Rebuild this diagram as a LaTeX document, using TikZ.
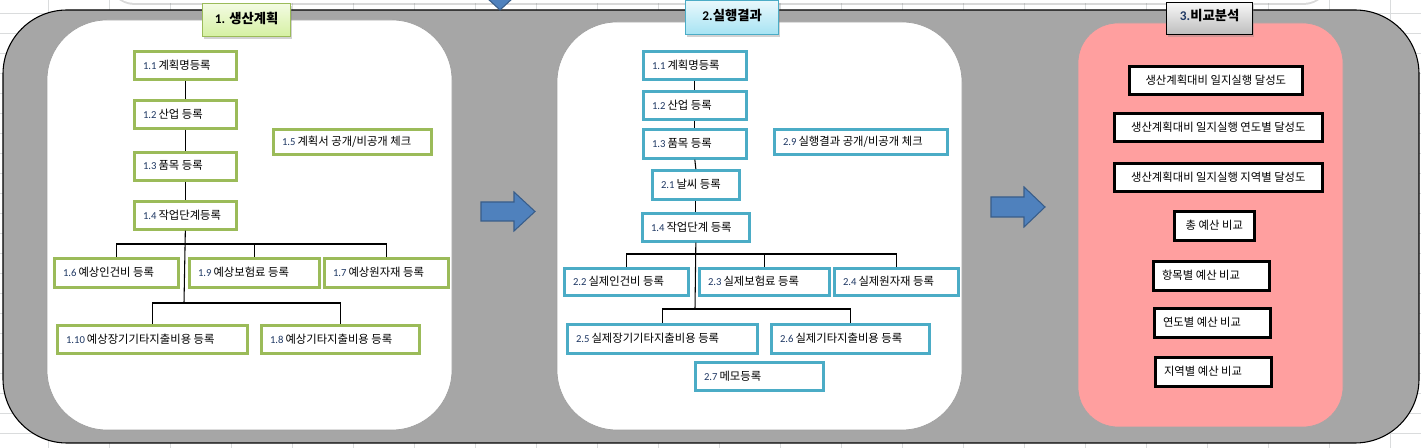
\documentclass[tikz,border=0pt]{standalone}
\usepackage{fontspec}
\setmainfont{Noto Sans CJK KR}
\newfontfamily\numf{Carlito}
\usetikzlibrary{shadows}
\definecolor{pgreen}{HTML}{9BBB59}
\definecolor{pblue}{HTML}{4BACC6}
\definecolor{outergray}{HTML}{A6A6A6}
\definecolor{pinkfill}{HTML}{FF9F9F}
\definecolor{arrowblue}{HTML}{4F81BD}
\definecolor{arrowedge}{HTML}{385D8A}
\definecolor{numcol}{HTML}{1F3864}
\definecolor{gridc}{HTML}{DADCDD}
\definecolor{tgtop}{HTML}{F3FBE2}
\definecolor{tgbot}{HTML}{D5F0A2}
\definecolor{tctop}{HTML}{E8F8FC}
\definecolor{tcbot}{HTML}{A6E3F3}
\definecolor{tktop}{HTML}{F7F7F7}
\definecolor{tkbot}{HTML}{BDBDBD}
\newcommand\nm[1]{{\numf\fontsize{8}{10}\selectfont\color{numcol}#1}\hspace{1.5pt}}
\newcommand\boxL[7]{%
  \pgfmathsetmacro\bxw{(#4-#2)*0.75}%
  \pgfmathsetmacro\bxh{(#5-#3)*0.75}%
  \pgfmathsetmacro\bxtw{\bxw-13}%
  \node[#6, minimum height=\bxh pt, anchor=north west] (#1) at (#2,#3)
    {\hbox to \bxtw pt{\raisebox{1.5pt}{#7}\hss}};}
\newcommand\boxC[7]{%
  \pgfmathsetmacro\bxw{(#4-#2)*0.75}%
  \pgfmathsetmacro\bxh{(#5-#3)*0.75}%
  \pgfmathsetmacro\bxtw{\bxw-13}%
  \node[#6, minimum height=\bxh pt, anchor=north west] (#1) at (#2,#3)
    {\hbox to \bxtw pt{\hss\raisebox{1.5pt}{#7}\hss}};}
\tikzset{
  box/.style={rectangle, line width=2pt, fill=white, inner xsep=6.5pt, inner ysep=0pt,
    outer sep=1pt, font=\fontsize{8.5}{10}\selectfont},
  gbox/.style={box, draw=pgreen},
  bbox/.style={box, draw=pblue},
  kbox/.style={box, draw=black, line width=1.8pt},
  conn/.style={draw=black, line width=0.8pt},
  title/.style={rectangle, anchor=north west, inner sep=0pt, line width=1pt,
    font=\fontsize{10}{12}\selectfont\bfseries,
    drop shadow={opacity=0.35, shadow xshift=1.2pt, shadow yshift=-1.5pt}},
  tgreen/.style={title, draw=pgreen, top color=tgtop, bottom color=tgbot},
  tcyan/.style={title, draw=pblue, top color=tctop, bottom color=tcbot},
  tgray/.style={title, draw=black, top color=tktop, bottom color=tkbot},
  blockarrow/.style={fill=arrowblue, draw=arrowedge, line width=0.8pt},
}
\begin{document}
\begin{tikzpicture}[x=0.75pt, y=-0.75pt]
\useasboundingbox (0,0) rectangle (1421,448);
\clip (0,0) rectangle (1421,448);
% spreadsheet grid
\foreach \gx in {48,109,...,1421} \draw[gridc, line width=0.5pt] (\gx,0) -- (\gx,448);
\foreach \gy in {13,33,...,448} \draw[gridc, line width=0.5pt] (0,\gy) -- (1421,\gy);
% shape above (cut off)
\fill[white, rounded corners=20pt, drop shadow={opacity=0.3, shadow xshift=0pt, shadow yshift=-1.5pt}] (108,-40) rectangle (1330,3);
% outer gray container
\draw[fill=outergray, draw=black, line width=0.8pt, rounded corners=48pt] (3,10) rectangle (1419,443);
% small blue triangle at the top
\draw[blockarrow] (487,-2) -- (513,-2) -- (500,10) -- cycle;
% panels
\draw[fill=white, draw=gray!75, line width=0.5pt, rounded corners=45pt] (47,20) rectangle (452,430);
\draw[fill=white, draw=gray!75, line width=0.5pt, rounded corners=45pt] (557,22) rectangle (962,430);
\draw[fill=pinkfill, draw=gray!70, line width=0.5pt, rounded corners=30pt] (1078,23) rectangle (1343,427);
% titles
\node[tgreen, minimum width=66pt, minimum height=24.75pt] (t1) at (202,3)
  {\raisebox{3pt}{{\numf\bfseries 1.} 생산계획}};
\node[tcyan, minimum width=69.75pt, minimum height=25.5pt] (t2) at (685,0)
  {\raisebox{4pt}{{\numf\bfseries 2.}실행결과}};
\node[tgray, minimum width=64.5pt, minimum height=24pt] (t3) at (1166,2)
  {\raisebox{5pt}{{\numf\bfseries\color{numcol}3.}비교분석}};
% panel 1
\boxL{p11}{133}{50}{235}{78}{gbox}{\nm{1.1}계획명등록}
\boxL{p12}{133}{99}{235}{127}{gbox}{\nm{1.2}산업 등록}
\boxL{p15}{272}{128}{430}{153}{gbox}{\nm{1.5}계획서 공개/비공개 체크}
\boxL{p13}{133}{151}{235}{179}{gbox}{\nm{1.3}품목 등록}
\boxL{p14}{133}{200}{235}{228}{gbox}{\nm{1.4}작업단계등록}
\boxL{p16}{53}{257}{177}{286}{gbox}{\nm{1.6}예상인건비  등록}
\boxL{p19}{188}{257}{318}{286}{gbox}{\nm{1.9}예상보험료  등록}
\boxL{p17}{323}{257}{447}{286}{gbox}{\nm{1.7}예상원자재  등록}
\boxL{p110}{56}{324}{246}{352}{gbox}{\nm{1.10}예상장기기타지출비용  등록}
\boxL{p18}{260}{324}{418}{352}{gbox}{\nm{1.8}예상기타지출비용  등록}
\coordinate (busA) at (184,244);
\coordinate (busB) at (184,303);
\draw[conn] (p11.south) -- (p12.north);
\draw[conn] (p12.south) -- (p13.north);
\draw[conn] (p13.south) -- (p14.north);
\draw[conn] (p14.south) -- (busB);
\draw[conn] (p16.north) -- (p16.north |- busA) -- (p17.north |- busA) -- (p17.north);
\draw[conn] (p19.north) -- (p19.north |- busA);
\draw[conn] (p110.north) -- (p110.north |- busB) -- (p18.north |- busB) -- (p18.north);
% panel 2
\boxL{q11}{642}{50}{745}{78}{bbox}{\nm{1.1}계획명등록}
\boxL{q12}{642}{90}{745}{118}{bbox}{\nm{1.2}산업 등록}
\boxL{q13}{642}{128}{745}{157}{bbox}{\nm{1.3}품목 등록}
\boxL{q29}{773}{128}{946}{153}{bbox}{\nm{2.9}실행결과 공개/비공개  체크}
\boxL{q21}{651}{169}{738}{198}{bbox}{\nm{2.1}날씨 등록}
\boxL{q14}{641}{212}{748}{240}{bbox}{\nm{1.4}작업단계  등록}
\boxL{q22}{563}{267}{687}{294}{bbox}{\nm{2.2}실제인건비  등록}
\boxL{q23}{698}{267}{828}{294}{bbox}{\nm{2.3}실제보험료  등록}
\boxL{q24}{833}{267}{957}{294}{bbox}{\nm{2.4}실제원자재  등록}
\boxL{q25}{566}{323}{756}{352}{bbox}{\nm{2.5}실제장기기타지출비용  등록}
\boxL{q26}{770}{323}{928}{352}{bbox}{\nm{2.6}실제기타지출비용  등록}
\boxL{q27}{694}{361}{822}{389}{bbox}{\nm{2.7}메모등록}
\coordinate (busC) at (695,254);
\coordinate (busD) at (695,309);
\draw[conn] (q11.south) -- (q12.north);
\draw[conn] (q12.south) -- (q13.north);
\draw[conn] (q13.south) -- (q21.north);
\draw[conn] (q21.south) -- (q14.north);
\draw[conn] (q14.south) -- (busD);
\draw[conn] (q22.north) -- (q22.north |- busC) -- (q24.north |- busC) -- (q24.north);
\draw[conn] (q23.north) -- (q23.north |- busC);
\draw[conn] (q25.north) -- (q25.north |- busD) -- (q26.north |- busD) -- (q26.north);
% panel 3
\boxC{r1}{1128}{65}{1301}{93}{kbox}{생산계획대비 일지실행 달성도}
\boxC{r2}{1113}{112}{1321}{140}{kbox}{생산계획대비 일지실행 연도별 달성도}
\boxC{r3}{1113}{162}{1321}{190}{kbox}{생산계획대비 일지실행 지역별 달성도}
\boxC{r4}{1173}{210}{1253}{239}{kbox}{총 예산 비교}
\boxL{r5}{1152}{260}{1268}{289}{kbox}{항목별 예산 비교}
\boxL{r6}{1153}{307}{1269}{336}{kbox}{연도별 예산 비교}
\boxL{r7}{1154}{356}{1270}{385}{kbox}{지역별 예산 비교}
% block arrows
\draw[blockarrow] (481,202) -- (514,202) -- (514,192) -- (535,211.5) -- (514,231) -- (514,221) -- (481,221) -- cycle;
\draw[blockarrow] (991,197) -- (1024,197) -- (1024,187) -- (1045,207) -- (1024,227) -- (1024,217) -- (991,217) -- cycle;
\end{tikzpicture}
\end{document}
